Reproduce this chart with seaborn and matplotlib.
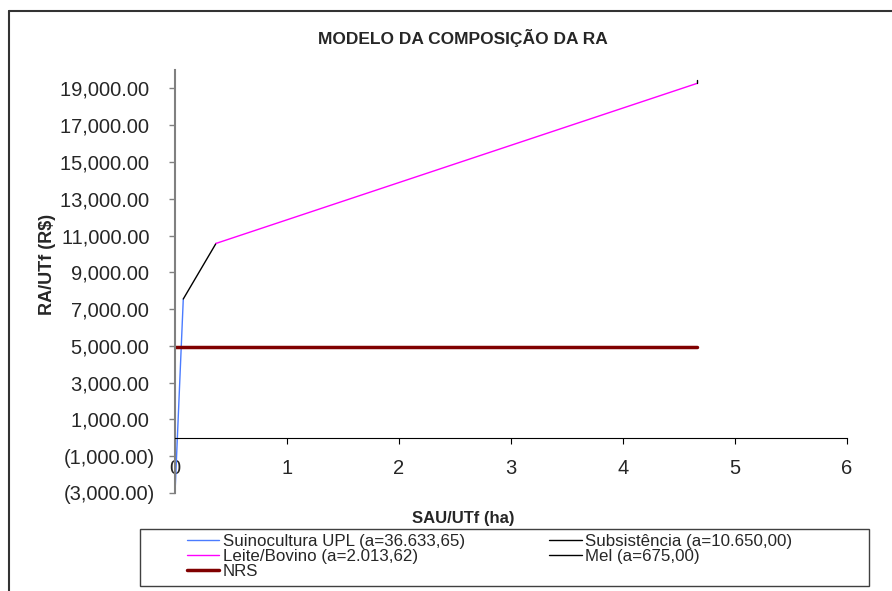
import matplotlib
matplotlib.use("Agg")
import matplotlib.pyplot as plt
import seaborn as sns
from matplotlib.patches import Rectangle
from matplotlib.lines import Line2D
from matplotlib.ticker import FuncFormatter, FixedLocator

# dados (SAU/UTf em ha, RA/UTf em R$)
suino_x = [0.0, 0.074]
suino_y = [-3000, 7550]
subsist_x = [0.074, 0.366]
subsist_y = [7550, 10570]
leite_x = [0.366, 4.66]
leite_y = [10570, 19270]
mel_x = [4.66, 4.66]
mel_y = [19270, 19470]
nrs_x = [0.0, 4.66]
nrs_y = [4950, 4950]

labels = ["Suinocultura UPL (a=36.633,65)", "Subsistência (a=10.650,00)",
          "Leite/Bovino (a=2.013,62)", "Mel (a=675,00)", "NRS"]
y_ticks = [-3000, -1000, 1000, 3000, 5000, 7000, 9000, 11000, 13000, 15000, 17000, 19000]
x_ticks = [0, 1, 2, 3, 4, 5, 6]

W, H = 892, 591

sns.set_style("white")
plt.rcParams['font.family'] = ['Liberation Sans', 'DejaVu Sans']


def fx(px):
    return px / W


def fy(py):
    return 1 - py / H


def fmt_contabil(v, pos):
    # formato contábil do Excel: negativos entre parênteses
    if v < 0:
        return f"({abs(v):,.2f})"
    return f"{v:,.2f} "


fig = plt.figure(figsize=(W / 100, H / 100), dpi=100)
ax = fig.add_axes([fx(175), fy(493), fx(847) - fx(175), fy(70) - fy(493)])

series = [
    (suino_x, suino_y, "#4A7BFF", 1.0, labels[0]),
    (subsist_x, subsist_y, "black", 1.0, labels[1]),
    (leite_x, leite_y, "#FF00FF", 1.0, labels[2]),
    (mel_x, mel_y, "black", 1.0, labels[3]),
    (nrs_x, nrs_y, "#800000", 2.5, labels[4]),
]
for xs, ys, cor, lw, lab in series:
    sns.lineplot(x=xs, y=ys, ax=ax, color=cor, linewidth=lw, label=lab,
                 sort=False, estimator=None)

ax.set_xlim(0, 6)
ax.set_ylim(-3000, 20000)
ax.yaxis.set_major_locator(FixedLocator(y_ticks))
ax.yaxis.set_major_formatter(FuncFormatter(fmt_contabil))
ax.xaxis.set_major_locator(FixedLocator(x_ticks))

ax.spines['top'].set_visible(False)
ax.spines['right'].set_visible(False)
ax.spines['left'].set_color('#808080')
ax.spines['left'].set_linewidth(1.5)
ax.spines['bottom'].set_position(('data', 0))
ax.spines['bottom'].set_color('black')
ax.spines['bottom'].set_linewidth(0.8)
ax.grid(False)

ax.tick_params(axis='y', direction='out', length=4, width=1, color='#808080',
               pad=10.5, labelsize=14.5, left=True)
ax.tick_params(axis='x', direction='out', length=4, width=0.8, color='black',
               pad=11, labelsize=14.5, bottom=True)
ax.set_xlabel("")
ax.set_ylabel("")

# legenda em duas colunas, com caixa própria
h, l = ax.get_legend_handles_labels()
ax.get_legend().remove()
ordem = [0, 2, 4, 1, 3]
fig.legend([h[i] for i in ordem], [l[i] for i in ordem], ncol=2,
           loc='upper left', bbox_to_anchor=(fx(187), fy(534)),
           frameon=False, fontsize=12.2, handlelength=1.9, handletextpad=0.2,
           columnspacing=5.0, labelspacing=0.0, borderpad=0, borderaxespad=0)
fig.add_artist(Rectangle((fx(140), fy(586)), fx(869) - fx(140), fy(529) - fy(586),
                         fill=False, edgecolor='#404040', linewidth=1,
                         transform=fig.transFigure))

# moldura do gráfico (só esquerda e topo visíveis)
fig.add_artist(Line2D([fx(8.5), fx(8.5)], [0, fy(11)], color='#333333', linewidth=1.5,
                      transform=fig.transFigure))
fig.add_artist(Line2D([fx(8.5), 1], [fy(11), fy(11)], color='#333333', linewidth=1.5,
                      transform=fig.transFigure))

fig.text(fx(463), fy(38), "MODELO DA COMPOSIÇÃO DA RA", ha='center', va='center',
         fontsize=12.5, fontweight='bold')
fig.text(fx(463), fy(518), "SAU/UTf (ha)", ha='center', va='center',
         fontsize=12, fontweight='bold')
fig.text(fx(47), fy(264), "RA/UTf (R$)", ha='center', va='center', rotation=90,
         fontsize=13, fontweight='bold')

fig.savefig("out.png", dpi=100)
